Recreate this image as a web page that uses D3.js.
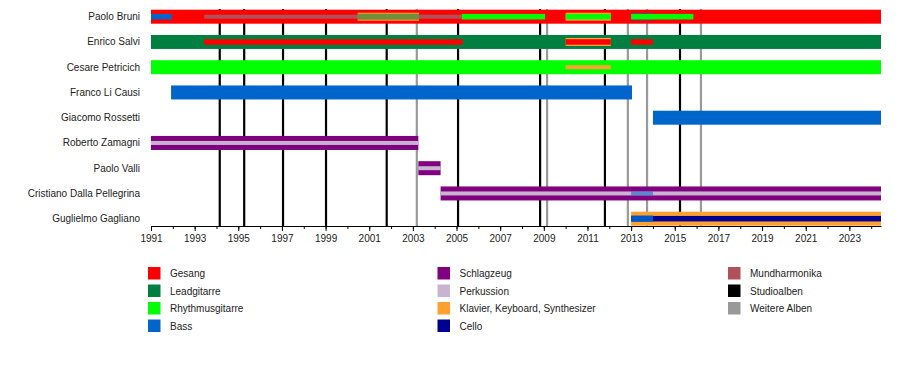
<!DOCTYPE html>
<html><head><meta charset="utf-8">
<script src="https://cdn.jsdelivr.net/npm/d3@7"></script>
<style>
body{margin:0;background:#fff;}
text{font-family:"Liberation Sans",Arial,sans-serif;font-size:10px;fill:#222;}
</style></head>
<body><svg id="c" width="900" height="375"></svg>
<script>
const members = ["Paolo Bruni","Enrico Salvi","Cesare Petricich","Franco Li Causi","Giacomo Rossetti","Roberto Zamagni","Paolo Valli","Cristiano Dalla Pellegrina","Guglielmo Gagliano"];
const instruments = ["Gesang","Leadgitarre","Rhythmusgitarre","Bass","Schlagzeug","Perkussion","Klavier, Keyboard, Synthesizer","Cello","Mundharmonika","Studioalben","Weitere Alben"];
const instrumentColors = ["#ff0000","#008040","#00ff00","#0066cc","#800080","#c8b4d0","#ffa030","#000090","#b05058","#000000","#999999"];
const studioAlbums = [1994.15,1995.27,1997.05,1999.02,2001.8,2005.07,2008.83,2011.8,2015.24];
const otherAlbums = [2003.18,2009.15,2012.85,2013.73,2016.2];
const tickYears = d3.range(1991, 2024, 2);
const minorYears = d3.range(1991, 2025, 1);
// [member, instrument, start, end, layer]
const periods = [
  ["Paolo Bruni","Gesang",1991,2024.45,"main"],
  ["Paolo Bruni","Bass",1991,1991.95,"inner"],
  ["Paolo Bruni","Mundharmonika",1993.44,2005.24,"line"],
  ["Paolo Bruni","Klavier, Keyboard, Synthesizer",2000.47,2003.28,"frame"],
  ["Paolo Bruni","Leadgitarre",2000.47,2003.28,"blend"],
  ["Paolo Bruni","Rhythmusgitarre",2005.24,2009.06,"inner"],
  ["Paolo Bruni","Klavier, Keyboard, Synthesizer",2010.0,2012.07,"frame"],
  ["Paolo Bruni","Rhythmusgitarre",2010.0,2012.07,"inner"],
  ["Paolo Bruni","Bass",2013.0,2014.0,"frameblend"],
  ["Paolo Bruni","Rhythmusgitarre",2013.0,2015.85,"inner"],
  ["Enrico Salvi","Leadgitarre",1991,2024.45,"main"],
  ["Enrico Salvi","Gesang",1993.43,2005.28,"inner"],
  ["Enrico Salvi","Klavier, Keyboard, Synthesizer",2010.0,2012.07,"frame"],
  ["Enrico Salvi","Gesang",2010.0,2012.07,"inner"],
  ["Enrico Salvi","Gesang",2013.0,2014.0,"inner"],
  ["Cesare Petricich","Rhythmusgitarre",1991,2024.45,"main"],
  ["Cesare Petricich","Klavier, Keyboard, Synthesizer",2010.0,2012.07,"line"],
  ["Franco Li Causi","Bass",1991.92,2013.04,"main"],
  ["Giacomo Rossetti","Bass",2014.0,2024.45,"main"],
  ["Roberto Zamagni","Schlagzeug",1991,2003.25,"main"],
  ["Roberto Zamagni","Perkussion",1991,2003.25,"line"],
  ["Paolo Valli","Schlagzeug",2003.25,2004.27,"main"],
  ["Paolo Valli","Perkussion",2003.25,2004.27,"line"],
  ["Cristiano Dalla Pellegrina","Schlagzeug",2004.27,2024.45,"main"],
  ["Cristiano Dalla Pellegrina","Perkussion",2004.27,2024.45,"line"],
  ["Cristiano Dalla Pellegrina","Bass",2013.0,2014.0,"lineblend"],
  ["Guglielmo Gagliano","Klavier, Keyboard, Synthesizer",2013.0,2024.45,"main"],
  ["Guglielmo Gagliano","Cello",2013.0,2024.45,"inner"],
  ["Guglielmo Gagliano","Bass",2013.0,2014.0,"frameBass"]
];

const layerStyle = {
  main:{h:14,o:1}, frame:{h:8,o:1}, inner:{h:5.5,o:1}, line:{h:4,o:1},
  blend:{h:6,o:0.55}, frameblend:{h:8,o:0.5}, lineblend:{h:4,o:0.55}, frameBass:{h:6.5,o:0.85}
};
const color = d3.scaleOrdinal().domain(instruments).range(instrumentColors);
const x = d3.scaleLinear().domain([1991, 2024.45]).range([151, 881]);
const y = d3.scalePoint().domain(members).range([16.7, 218.7]);
const svg = d3.select("#c");

// album lines
const lineTop = 9, lineBottom = 226;
svg.append("g").selectAll("line").data(otherAlbums).join("line")
  .attr("x1", d=>x(d)).attr("x2", d=>x(d)).attr("y1", lineTop).attr("y2", lineBottom)
  .attr("stroke", color("Weitere Alben")).attr("stroke-width", 2.2);
svg.append("g").selectAll("line").data(studioAlbums).join("line")
  .attr("x1", d=>x(d)).attr("x2", d=>x(d)).attr("y1", lineTop).attr("y2", lineBottom)
  .attr("stroke", color("Studioalben")).attr("stroke-width", 2.2);

// bars
svg.append("g").selectAll("rect").data(periods).join("rect")
  .attr("x", d=>x(d[2])).attr("width", d=>x(d[3])-x(d[2]))
  .attr("y", d=>y(d[0]) - layerStyle[d[4]].h/2).attr("height", d=>layerStyle[d[4]].h)
  .attr("fill", d=>color(d[1])).attr("fill-opacity", d=>layerStyle[d[4]].o);

// member labels
svg.append("g").selectAll("text").data(members).join("text")
  .attr("x", 140).attr("y", d=>y(d)).attr("dy","0.35em").attr("text-anchor","end").text(d=>d);

// axes
const axisY = 226;
const minor = svg.append("g").attr("transform",`translate(0,${axisY})`)
  .call(d3.axisBottom(x).tickValues(minorYears.filter(v=>v<=2024.45)).tickSize(3).tickFormat(""));
minor.select(".domain").remove();
minor.selectAll("line").attr("stroke","#000");
const major = svg.append("g").attr("transform",`translate(0,${axisY})`)
  .call(d3.axisBottom(x).tickValues(tickYears).tickSize(5).tickSizeOuter(0).tickFormat(d3.format("d")));
major.select(".domain").attr("stroke","#000");
major.selectAll("line").attr("stroke","#000");
major.selectAll("text").attr("y", 9).style("font-family","'Liberation Sans',Arial,sans-serif").style("font-size","10px").attr("fill","#222");

// legend
const legCols = [148, 437.5, 728];
const legRowY = [267, 284.5, 302, 319.5];
const legendLayout = instruments.map((n,i)=>{
  const col = i<4?0:(i<8?1:2);
  const row = i<4?i:(i<8?i-4:i-8);
  return {n, col, row};
});
const lg = svg.append("g").selectAll("g").data(legendLayout).join("g")
  .attr("transform", d=>`translate(${legCols[d.col]},${legRowY[d.row]})`);
lg.append("rect").attr("width",12.5).attr("height",12.5).attr("fill", d=>color(d.n));
lg.append("text").attr("x",22).attr("y",6.5).attr("dy","0.35em").text(d=>d.n);
</script></body></html>
